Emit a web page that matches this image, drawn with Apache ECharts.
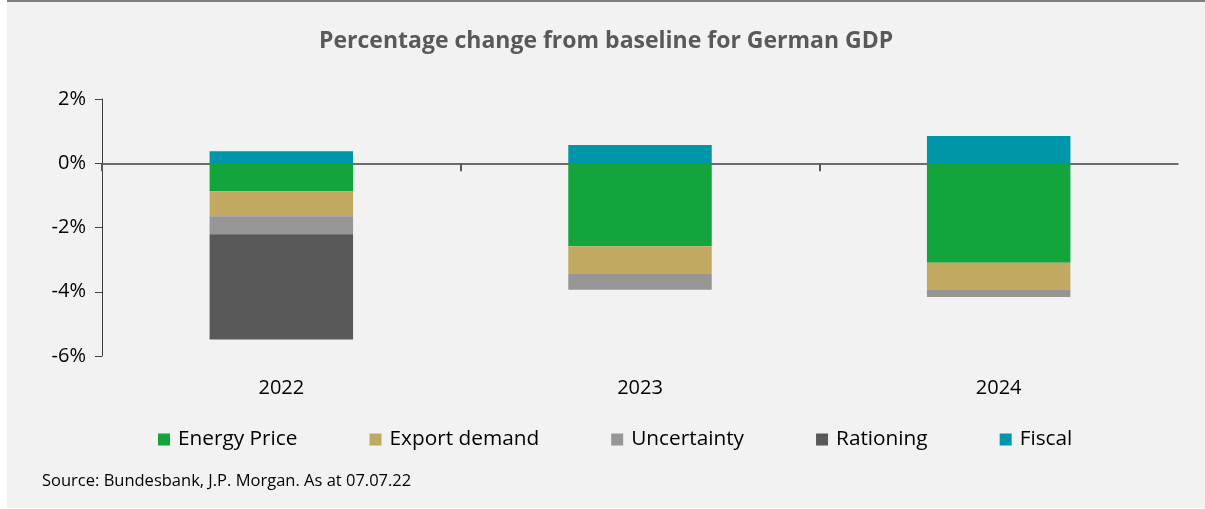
<!DOCTYPE html>
<html>
<head>
<meta charset="utf-8">
<script src="https://cdn.jsdelivr.net/npm/echarts@6/dist/echarts.min.js"></script>
<style>
  html, body { margin: 0; padding: 0; background: #ffffff; }
  #bg { position: absolute; left: 7px; top: 0; width: 1198px; height: 508px; background: #f2f2f2; border-top: 2px solid #7f7f7f; box-sizing: border-box; }
  #chart { position: absolute; left: 0; top: 0; width: 1205px; height: 509px; }
</style>
</head>
<body>
<div id="bg"></div>
<div id="chart"></div>
<script>
const categories = ['2022', '2023', '2024'];
const energyPrice = [-0.87, -2.58, -3.10];
const exportDemand = [-0.78, -0.87, -0.82];
const uncertainty = [-0.56, -0.49, -0.24];
const rationing = [-3.28, 0, 0];
const fiscal = [0.37, 0.57, 0.85];
const yTicks = { min: -6, max: 2, interval: 2 };

const FONT = '"Open Sans", sans-serif';
const chart = echarts.init(document.getElementById('chart'), null, { renderer: 'canvas' });

function bar(name, data, color) {
  return {
    name, type: 'bar', stack: 'total', data,
    barWidth: '40%', xAxisIndex: 0, yAxisIndex: 0,
    itemStyle: { color },
    emphasis: { disabled: true }
  };
}

// interior category boundaries only (ticks between the years)
const tickCats = categories.slice(0, categories.length - 1);
const bandW = (1205 - 102 - 27) / categories.length;

chart.setOption({
  backgroundColor: 'transparent',
  animation: false,
  title: {
    text: 'Percentage change from baseline for German GDP',
    left: 314, top: 25,
    textStyle: { fontFamily: FONT, fontSize: 23, fontWeight: 'bold', color: '#595959' }
  },
  grid: [
    { left: 102, right: 27, top: 99, bottom: 153 },
    { left: 102, right: 27 + bandW, top: 99, bottom: 153 }
  ],
  legend: {
    left: 153, top: 424,
    itemWidth: 12, itemHeight: 12, itemGap: 72,
    icon: 'rect',
    textStyle: { fontFamily: FONT, fontSize: 20.8, color: '#000000', padding: [0, 0, 0, 3] },
    data: ['Energy Price', 'Export demand', 'Uncertainty', 'Rationing', 'Fiscal']
  },
  graphic: [{
    type: 'text', left: 42, top: 473,
    style: { text: 'Source: Bundesbank, J.P. Morgan. As at 07.07.22', font: '16.5px ' + FONT, fill: '#000000' }
  }],
  xAxis: [{
    gridIndex: 0, type: 'category', data: categories, position: 'bottom',
    axisLine: { show: false, onZero: false }, axisTick: { show: false },
    axisLabel: { fontFamily: FONT, fontSize: 20, color: '#000000', margin: 22 }
  }, {
    gridIndex: 0, type: 'category', data: categories, position: 'bottom',
    axisLine: { show: true, onZero: true, lineStyle: { color: '#404040', width: 1.5 } },
    axisTick: { show: false },
    axisLabel: { show: false }
  }, {
    gridIndex: 1, type: 'category', data: tickCats, position: 'bottom',
    axisLine: { show: false, onZero: true },
    axisTick: { show: true, length: 8, lineStyle: { color: '#595959', width: 2 } },
    axisLabel: { show: false }
  }],
  yAxis: [{
    gridIndex: 0, type: 'value', min: yTicks.min, max: yTicks.max, interval: yTicks.interval,
    axisLine: { show: true, lineStyle: { color: '#404040', width: 1 } },
    axisTick: { show: true, length: 7, lineStyle: { color: '#404040' } },
    splitLine: { show: false },
    axisLabel: { formatter: '{value}%', fontFamily: FONT, fontSize: 20, color: '#000000', margin: 16 }
  }, {
    gridIndex: 1, type: 'value', min: yTicks.min, max: yTicks.max, interval: yTicks.interval,
    show: false
  }],
  series: [
    bar('Energy Price', energyPrice, '#13a53b'),
    bar('Export demand', exportDemand, '#c1a962'),
    bar('Uncertainty', uncertainty, '#969696'),
    bar('Rationing', rationing, '#595959'),
    bar('Fiscal', fiscal, '#0096aa')
  ]
});
</script>
</body>
</html>
